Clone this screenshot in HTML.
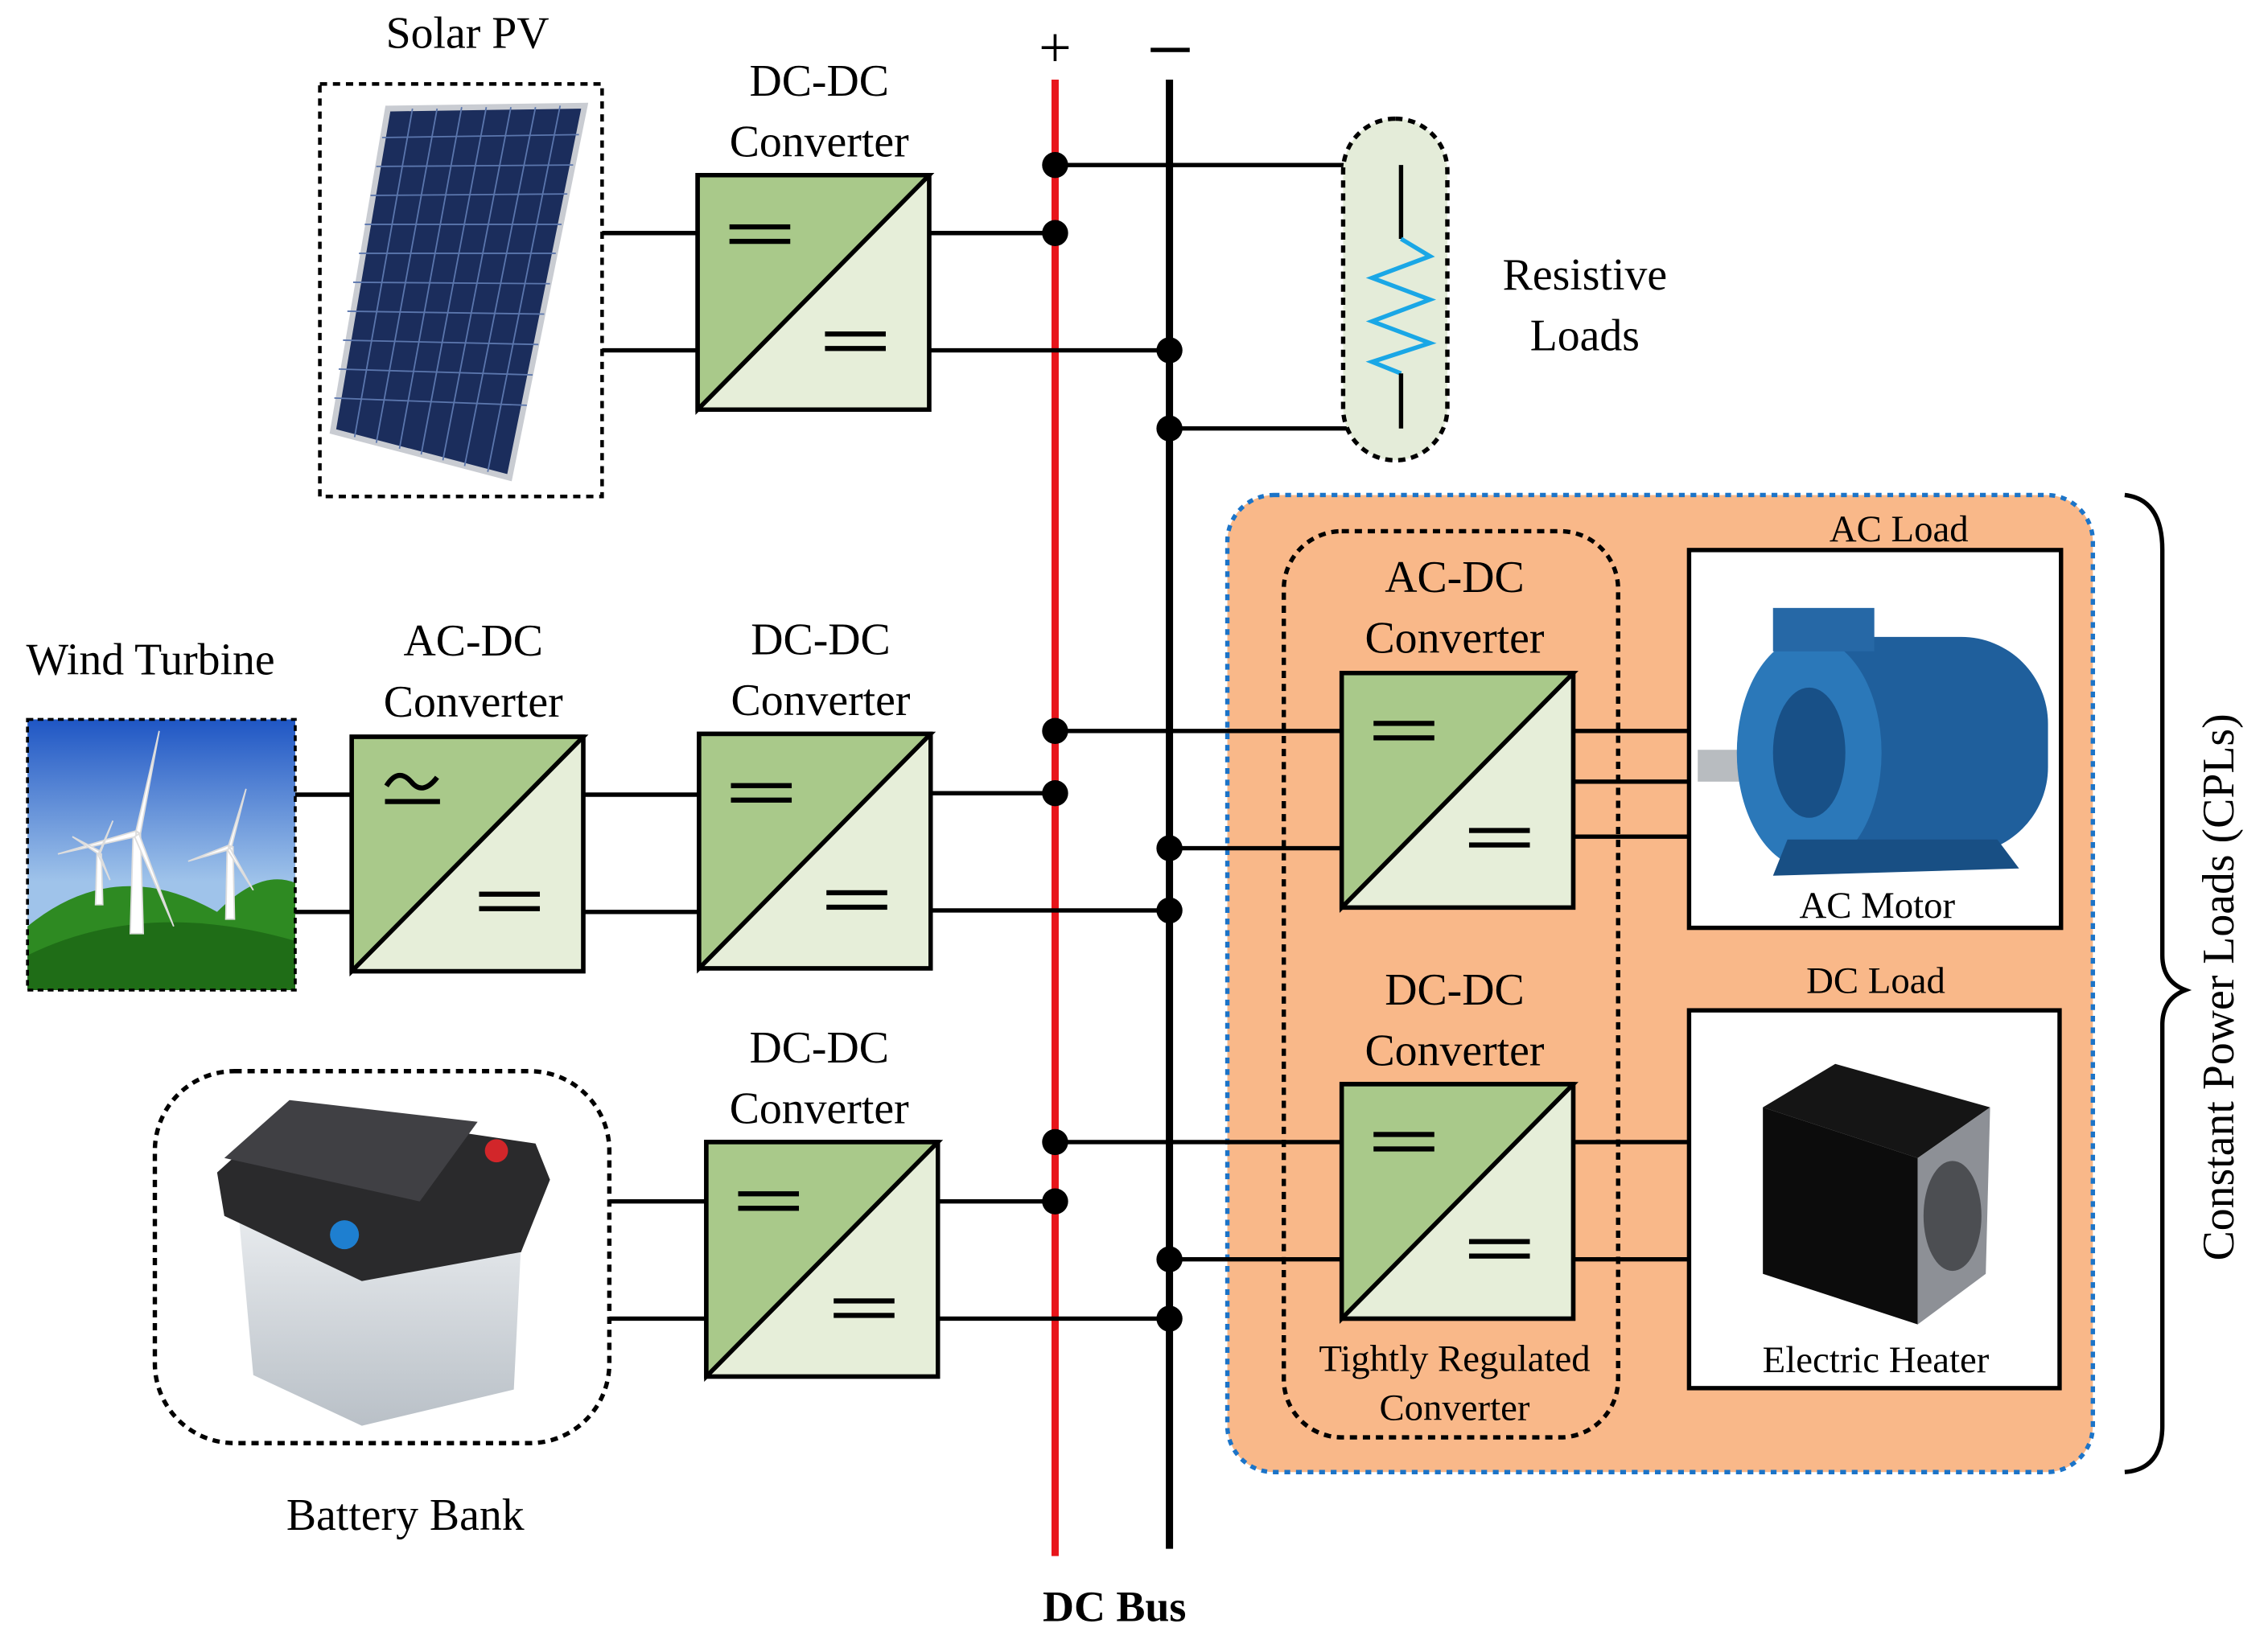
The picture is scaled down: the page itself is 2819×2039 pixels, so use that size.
<!DOCTYPE html>
<html><head><meta charset="utf-8"><style>
html,body{margin:0;padding:0;background:#fff;}
svg{display:block;}
text{font-family:"Liberation Serif",serif;fill:#000;}
</style></head><body>
<svg width="2819" height="2039" viewBox="0 0 1567 1133" preserveAspectRatio="none" xmlns="http://www.w3.org/2000/svg">
<defs>
<g id="eq"><rect x="0" y="0" width="42" height="3.5"/><rect x="0" y="10" width="42" height="3.5"/></g>
<linearGradient id="sky" x1="0" y1="0" x2="0" y2="1"><stop offset="0" stop-color="#1f56c4"/><stop offset="0.6" stop-color="#9fc3ea"/></linearGradient>
<linearGradient id="bat" x1="0" y1="0" x2="0" y2="1"><stop offset="0" stop-color="#e8ebee"/><stop offset="1" stop-color="#b9c0c7"/></linearGradient>
</defs>

<line x1="729" y1="55" x2="729" y2="1075" stroke="#e8151b" stroke-width="5"/>
<line x1="808" y1="55" x2="808" y2="1070" stroke="#000" stroke-width="5"/>
<text x="729" y="46" font-size="40" text-anchor="middle">+</text>
<rect x="795" y="33" width="27" height="3"/>
<text x="770" y="1120" font-size="30" font-weight="bold" text-anchor="middle">DC Bus</text>

<g stroke="#000" stroke-width="3" fill="none">
<line x1="416" y1="161" x2="482" y2="161"/><line x1="416" y1="242" x2="482" y2="242"/>
<line x1="642" y1="161" x2="729" y2="161"/><line x1="642" y1="242" x2="808" y2="242"/>
<polyline points="729,114 968,114 968,165"/><polyline points="968,258 968,296 808,296"/>
<line x1="204" y1="549" x2="243" y2="549"/><line x1="204" y1="630" x2="243" y2="630"/>
<line x1="403" y1="549" x2="483" y2="549"/><line x1="403" y1="630" x2="483" y2="630"/>
<line x1="643" y1="548" x2="729" y2="548"/><line x1="643" y1="629" x2="808" y2="629"/>
<line x1="421" y1="830" x2="488" y2="830"/><line x1="421" y1="911" x2="488" y2="911"/>
<line x1="648" y1="830" x2="729" y2="830"/><line x1="648" y1="911" x2="808" y2="911"/>
</g>

<rect x="928" y="82" width="72" height="236" rx="36" fill="#e4ecd9" stroke="#000" stroke-width="3" stroke-dasharray="5,4"/>
<polyline points="968,114 968,165" stroke="#000" stroke-width="3" fill="none"/>
<polyline points="968,165 988,177 948,192 988,207 948,222 988,237 948,250 968,258" stroke="#1aa7e6" stroke-width="3" fill="none"/>
<polyline points="968,258 968,296" stroke="#000" stroke-width="3"/>
<text x="1095" y="200" font-size="31" text-anchor="middle">Resistive</text>
<text x="1095" y="242" font-size="31" text-anchor="middle">Loads</text>

<rect x="221" y="58" width="195" height="285" fill="none" stroke="#000" stroke-width="2.5" stroke-dasharray="5,4"/>
<text x="323" y="33" font-size="31" text-anchor="middle">Solar PV</text>
<polygon points="268,75 404,73 352,330 230,298" fill="#1b2d5c" stroke="#c9ccd2" stroke-width="4"/>
<g stroke="#5b76ad" stroke-width="1">
<line x1="285" y1="75" x2="245" y2="302"/><line x1="302" y1="75" x2="260" y2="306"/><line x1="319" y1="74" x2="276" y2="310"/><line x1="336" y1="74" x2="291" y2="314"/><line x1="353" y1="74" x2="306" y2="318"/><line x1="370" y1="74" x2="321" y2="322"/><line x1="387" y1="73" x2="337" y2="326"/>
<line x1="264" y1="95" x2="400" y2="93"/><line x1="260" y1="115" x2="396" y2="114"/><line x1="256" y1="135" x2="392" y2="134"/><line x1="252" y1="155" x2="388" y2="155"/><line x1="248" y1="175" x2="384" y2="175"/><line x1="244" y1="195" x2="380" y2="196"/><line x1="240" y1="215" x2="376" y2="217"/><line x1="237" y1="235" x2="372" y2="238"/><line x1="234" y1="255" x2="368" y2="259"/><line x1="231" y1="275" x2="364" y2="280"/>
</g>

<text x="104" y="466" font-size="31" text-anchor="middle">Wind Turbine</text>
<rect x="19" y="497" width="185" height="187" fill="url(#sky)"/>
<path d="M19,640 Q80,590 150,630 Q180,600 204,610 L204,684 L19,684 Z" fill="#2e8a22"/>
<path d="M19,660 Q100,620 204,650 L204,684 L19,684 Z" fill="#1f6d17"/>
<g fill="#fff" stroke="#ddd" stroke-width="1">
<polygon points="92,575 97,575 99,645 90,645"/><polygon points="94,574 110,505 97,576"/><polygon points="94,574 40,590 94,578"/><polygon points="96,576 120,640 93,578"/>
<polygon points="157,585 161,585 162,635 156,635"/><polygon points="158,584 170,545 160,585"/><polygon points="158,584 130,595 158,587"/><polygon points="159,586 175,615 157,587"/>
<polygon points="67,590 70,590 71,625 66,625"/><polygon points="68,590 50,578 69,588"/><polygon points="68,590 78,567 69,590"/><polygon points="69,590 76,608 68,591"/>
</g>
<rect x="19" y="497" width="185" height="187" fill="none" stroke="#000" stroke-width="2" stroke-dasharray="4,3"/>

<rect x="107" y="740" width="314" height="257" rx="55" fill="none" stroke="#000" stroke-width="3" stroke-dasharray="5,4"/>
<text x="280" y="1057" font-size="31" text-anchor="middle">Battery Bank</text>
<polygon points="165,840 360,860 355,960 250,985 175,950" fill="url(#bat)"/>
<polygon points="150,810 200,765 370,790 380,815 360,865 250,885 155,840" fill="#2a2a2c"/>
<polygon points="155,800 200,760 330,775 290,830" fill="#404044"/>
<circle cx="238" cy="853" r="10" fill="#1e7fd0"/><circle cx="343" cy="795" r="8" fill="#d2262a"/>

<rect x="848" y="342" width="598" height="675" rx="32" fill="#f9b889" stroke="#1c74c8" stroke-width="3" stroke-dasharray="4,4"/>
<rect x="887" y="367" width="231" height="626" rx="40" fill="#f9b889" stroke="#000" stroke-width="3" stroke-dasharray="5,4"/>
<g stroke="#000" stroke-width="3">
<line x1="729" y1="505" x2="927" y2="505"/><line x1="808" y1="586" x2="927" y2="586"/>
<line x1="1087" y1="505" x2="1167" y2="505"/><line x1="1087" y1="540" x2="1167" y2="540"/><line x1="1087" y1="578" x2="1167" y2="578"/>
<line x1="729" y1="789" x2="927" y2="789"/><line x1="808" y1="870" x2="927" y2="870"/>
<line x1="1087" y1="789" x2="1167" y2="789"/><line x1="1087" y1="870" x2="1167" y2="870"/>
</g>
<rect x="1167" y="380" width="257" height="261" fill="#fff" stroke="#000" stroke-width="3"/>
<rect x="1167" y="698" width="256" height="261" fill="#fff" stroke="#000" stroke-width="3"/>
<text x="1312" y="374" font-size="26" text-anchor="middle">AC Load</text>
<text x="1296" y="686" font-size="26" text-anchor="middle">DC Load</text>
<text x="1297" y="634" font-size="26" text-anchor="middle">AC Motor</text>
<text x="1296" y="948" font-size="26" text-anchor="middle">Electric Heater</text>
<text x="1005" y="947" font-size="26" text-anchor="middle">Tightly Regulated</text>
<text x="1005" y="981" font-size="26" text-anchor="middle">Converter</text>
<rect x="1173" y="518" width="45" height="22" fill="#b8bcc0"/>
<rect x="1215" y="440" width="200" height="150" rx="60" fill="#1f5f9c"/>
<ellipse cx="1250" cy="520" rx="50" ry="80" fill="#2b78b9"/>
<ellipse cx="1250" cy="520" rx="25" ry="45" fill="#185087"/>
<rect x="1225" y="420" width="70" height="30" fill="#2668a6"/>
<polygon points="1235,580 1380,580 1395,600 1225,605" fill="#184f84"/>
<polygon points="1218,765 1268,735 1375,765 1325,800" fill="#151515"/>
<polygon points="1218,765 1325,800 1325,915 1218,880" fill="#0c0c0c"/>
<polygon points="1325,800 1375,765 1372,880 1325,915" fill="#8d9096"/>
<ellipse cx="1349" cy="840" rx="20" ry="38" fill="#4c4e52"/>

<g stroke="#000" stroke-width="3">
<g transform="translate(482,121)"><rect width="160" height="162" fill="#e6eed9"/><polygon points="0,0 160,0 0,162" fill="#a9c98a"/><line x1="0" y1="162" x2="160" y2="0"/><rect width="160" height="162" fill="none"/></g>
<g transform="translate(243,509)"><rect width="160" height="162" fill="#e6eed9"/><polygon points="0,0 160,0 0,162" fill="#a9c98a"/><line x1="0" y1="162" x2="160" y2="0"/><rect width="160" height="162" fill="none"/></g>
<g transform="translate(483,507)"><rect width="160" height="162" fill="#e6eed9"/><polygon points="0,0 160,0 0,162" fill="#a9c98a"/><line x1="0" y1="162" x2="160" y2="0"/><rect width="160" height="162" fill="none"/></g>
<g transform="translate(488,789)"><rect width="160" height="162" fill="#e6eed9"/><polygon points="0,0 160,0 0,162" fill="#a9c98a"/><line x1="0" y1="162" x2="160" y2="0"/><rect width="160" height="162" fill="none"/></g>
<g transform="translate(927,465)"><rect width="160" height="162" fill="#e6eed9"/><polygon points="0,0 160,0 0,162" fill="#a9c98a"/><line x1="0" y1="162" x2="160" y2="0"/><rect width="160" height="162" fill="none"/></g>
<g transform="translate(927,749)"><rect width="160" height="162" fill="#e6eed9"/><polygon points="0,0 160,0 0,162" fill="#a9c98a"/><line x1="0" y1="162" x2="160" y2="0"/><rect width="160" height="162" fill="none"/></g>
</g>
<use href="#eq" x="504" y="155"/><use href="#eq" x="570" y="229"/>
<use href="#eq" x="505" y="541"/><use href="#eq" x="571" y="615"/>
<use href="#eq" x="510" y="823"/><use href="#eq" x="576" y="897"/>
<use href="#eq" x="949" y="498"/><use href="#eq" x="1015" y="572"/>
<use href="#eq" x="949" y="782"/><use href="#eq" x="1015" y="856"/>
<use href="#eq" x="331" y="616"/>
<path d="M267,543 Q275,530 284,540 Q292,550 302,537" stroke="#000" stroke-width="3.5" fill="none"/>
<rect x="266" y="552" width="38" height="3.5"/>

<g font-size="31" text-anchor="middle">
<text x="566" y="66">DC-DC</text><text x="566" y="108">Converter</text>
<text x="327" y="453">AC-DC</text><text x="327" y="495">Converter</text>
<text x="567" y="452">DC-DC</text><text x="567" y="494">Converter</text>
<text x="566" y="734">DC-DC</text><text x="566" y="776">Converter</text>
<text x="1005" y="409">AC-DC</text><text x="1005" y="451">Converter</text>
<text x="1005" y="694">DC-DC</text><text x="1005" y="736">Converter</text>
</g>

<g fill="#000">
<circle cx="729" cy="114" r="9"/><circle cx="729" cy="161" r="9"/><circle cx="808" cy="242" r="9"/><circle cx="808" cy="296" r="9"/>
<circle cx="729" cy="505" r="9"/><circle cx="729" cy="548" r="9"/><circle cx="808" cy="586" r="9"/><circle cx="808" cy="629" r="9"/>
<circle cx="729" cy="789" r="9"/><circle cx="729" cy="830" r="9"/><circle cx="808" cy="870" r="9"/><circle cx="808" cy="911" r="9"/>
</g>

<path d="M1468,342 Q1494,345 1494,380 L1494,660 Q1494,678 1510,684 Q1494,690 1494,708 L1494,985 Q1494,1015 1468,1017" stroke="#000" stroke-width="3" fill="none"/>
<text transform="translate(1543,682) rotate(-90)" font-size="31" text-anchor="middle">Constant Power Loads (CPLs)</text>
</svg>
</body></html>
